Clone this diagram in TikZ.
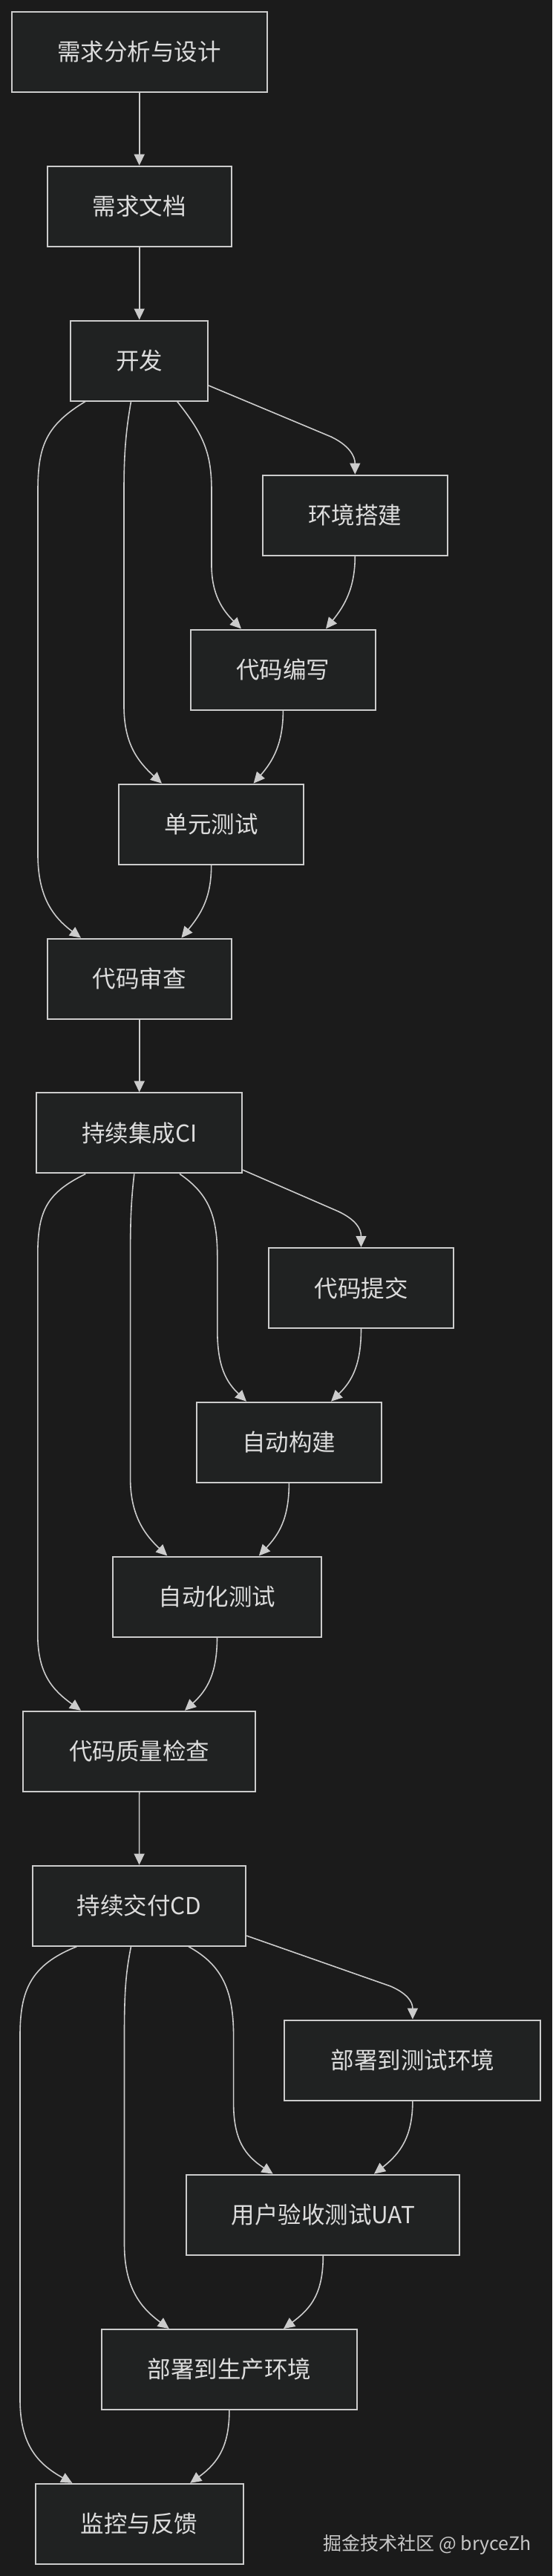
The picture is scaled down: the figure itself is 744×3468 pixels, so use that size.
\documentclass[tikz,border=0pt]{standalone}
\usepackage{fontspec}
\newfontfamily\cjk{Noto Sans CJK SC}
\usetikzlibrary{arrows.meta,calc}
\definecolor{bgcol}{HTML}{1B1B1B}
\definecolor{boxfill}{HTML}{202222}
\definecolor{boxline}{HTML}{CCCCCC}
\definecolor{txtcol}{HTML}{DDDDDD}
\definecolor{edgecol}{HTML}{CCCCCC}
\definecolor{wmcol}{HTML}{C8C8C8}
\tikzset{
  box/.style={draw=boxline, line width=2pt, fill=boxfill, text=txtcol,
    minimum height=108pt, inner sep=0pt, font=\cjk\fontsize{31.5}{36}\selectfont},
  edge/.style={draw=edgecol, line width=1.6pt,
    -{Triangle[length=15pt,width=14pt,fill=edgecol]}},
}
\begin{document}
\begin{tikzpicture}[x=1pt,y=-1pt]
\fill[bgcol] (0,0) rectangle (744,3468);
\useasboundingbox (0,0) rectangle (744,3468);

% nodes
\node[box, minimum width=344pt] (n1) at (187.7,70) {需求分析与设计};
\node[box, minimum width=248pt] (n2) at (187.7,277.7) {需求文档};
\node[box, minimum width=184.6pt] (n3) at (187.7,485.5) {开发};
\node[box, minimum width=248.6pt] (n4) at (478.3,693.6) {环境搭建};
\node[box, minimum width=248.8pt] (n5) at (381.4,901.5) {代码编写};
\node[box, minimum width=248.6pt] (n6) at (284.7,1109.6) {单元测试};
\node[box, minimum width=248pt] (n7) at (187.7,1317.6) {代码审查};
\node[box, minimum width=276.7pt] (n8) at (187.7,1525.4) {持续集成CI};
\node[box, minimum width=249pt] (n9) at (486.5,1734) {代码提交};
\node[box, minimum width=249pt] (n10) at (389.4,1941.7) {自动构建};
\node[box, minimum width=281.4pt] (n11) at (292.5,2149.5) {自动化测试};
\node[box, minimum width=312.7pt] (n12) at (187.7,2357.7) {代码质量检查};
\node[box, minimum width=287.2pt] (n13) at (187.6,2565.6) {持续交付CD};
\node[box, minimum width=345pt] (n14) at (555.9,2773.5) {部署到测试环境};
\node[box, minimum width=367.7pt] (n15) at (435.3,2981.6) {用户验收测试UAT};
\node[box, minimum width=344.4pt] (n16) at (308.9,3190) {部署到生产环境};
\node[box, minimum width=280.4pt] (n17) at (187.7,3397.8) {监控与反馈};

\node[text=wmcol, font=\cjk\fontsize{25}{30}\selectfont, inner sep=0pt] (wm) at (575.7,3426) {掘金技术社区 @ bryceZh};

% straight edges
\draw[edge] (n1.south) -- (n2.north);
\draw[edge] (n2.south) -- (n3.north);
\draw[edge] (n7.south) -- (n8.north);
\draw[edge] (n12.south) -- (n13.north);

% section 1
\draw[edge] ([xshift=-72.7pt]n3.south) .. controls +(-53,32) and +(0,-60) .. ++(-64,120)
  -- ++(0,490) .. controls +(0,55) and +(-39,-29) .. ([xshift=-78.7pt]n7.north);
\draw[edge] ([xshift=-11.2pt]n3.south) .. controls +(-7,40) and +(0,-50) .. ++(-9.5,120)
  -- ++(0,290) .. controls +(0,50) and +(-33,-30) .. ([xshift=-66.7pt]n6.north);
\draw[edge] ([xshift=51pt]n3.south) .. controls +(36,45) and +(0,-50) .. ++(46.3,120)
  -- ++(0,100) .. controls +(0,40) and +(-25,-25) .. ([xshift=-56.4pt]n5.north);
\draw[edge] ([yshift=-33.5pt]n3.east) -- ++(165,69) .. controls +(25,12) and +(0,-24) .. (n4.north);
\draw[edge] (n4.south) .. controls +(0,42) and +(26,-32) .. ([xshift=57.6pt]n5.north);
\draw[edge] (n5.south) .. controls +(0,45) and +(26,-30) .. ([xshift=56.9pt]n6.north);
\draw[edge] (n6.south) .. controls +(0,42) and +(28,-34) .. ([xshift=56.7pt]n7.north);

% section 2
\draw[edge] ([xshift=-72.4pt]n8.south) .. controls +(-53,26) and +(0,-60) .. ++(-64.5,110)
  -- ++(0,510) .. controls +(0,52) and +(-39,-28) .. ([xshift=-78.7pt]n12.north);
\draw[edge] ([xshift=-6.9pt]n8.south) .. controls +(-4,35) and +(0,-50) .. ++(-5.2,110)
  -- ++(0,300) .. controls +(0,50) and +(-30,-28) .. ([xshift=-67.1pt]n11.north);
\draw[edge] ([xshift=54.3pt]n8.south) .. controls +(38,26) and +(0,-55) .. ++(50.8,110)
  -- ++(0,100) .. controls +(0,50) and +(-27,-26) .. ([xshift=-57.4pt]n10.north);
\draw[edge] ([yshift=-49.6pt]n8.east) -- ++(129,56) .. controls +(23,11) and +(0,-25) .. (n9.north);
\draw[edge] (n9.south) .. controls +(0,47) and +(29,-28) .. ([xshift=56.6pt]n10.north);
\draw[edge] (n10.south) .. controls +(0,49) and +(26,-28) .. ([xshift=56.3pt]n11.north);
\draw[edge] (n11.south) .. controls +(0,47) and +(31,-28) .. ([xshift=61.3pt]n12.north);

% section 3
\draw[edge] ([xshift=-84.2pt]n13.south) .. controls +(-63,25) and +(0,-60) .. ++(-76.4,120)
  -- ++(0,490) .. controls +(0,60) and +(-47,-26) .. ([xshift=-90.4pt]n17.north);
\draw[edge] ([xshift=-11.1pt]n13.south) .. controls +(-7,35) and +(0,-60) .. ++(-9,120)
  -- ++(0,280) .. controls +(0,60) and +(-38,-28) .. ([xshift=-81.1pt]n16.north);
\draw[edge] ([xshift=66.3pt]n13.south) .. controls +(46,25) and +(0,-60) .. ++(60.7,120)
  -- ++(0,90) .. controls +(0,50) and +(-38,-25) .. ([xshift=-67.6pt]n15.north);
\draw[edge] ([yshift=-40.4pt]n13.east) -- ++(194,68) .. controls +(23,10) and +(0,-23) .. (n14.north);
\draw[edge] (n14.south) .. controls +(0,47) and +(36,-28) .. ([xshift=68.7pt]n15.north);
\draw[edge] (n15.south) .. controls +(0,50) and +(38,-28) .. ([xshift=73.1pt]n16.north);
\draw[edge] (n16.south) .. controls +(0,46) and +(39,-28) .. ([xshift=68.5pt]n17.north);
\end{tikzpicture}
\end{document}
